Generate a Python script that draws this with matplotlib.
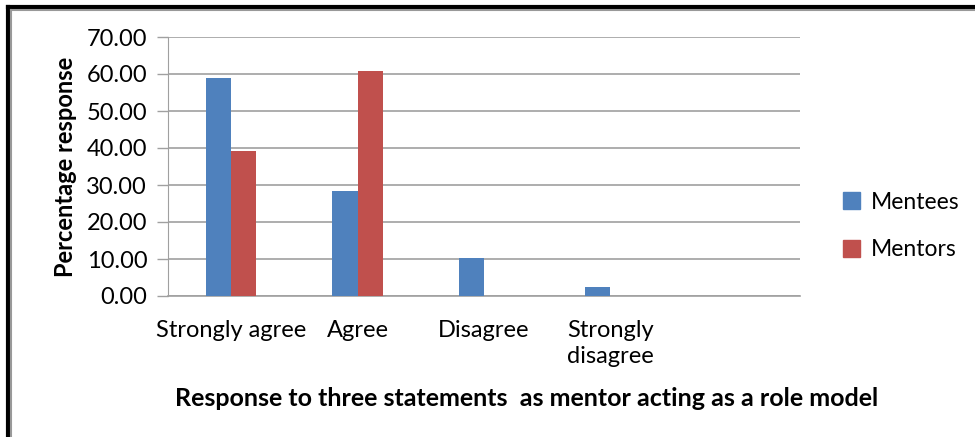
import matplotlib.pyplot as plt
import numpy as np
from matplotlib.lines import Line2D
from matplotlib.patches import Patch

categories = ["Strongly agree", "Agree", "Disagree", "Strongly\ndisagree", ""]
mentees = [58.8, 28.3, 10.4, 2.4, 0.0]
mentors = [39.2, 60.7, 0.0, 0.0, 0.0]
series_names = ["Mentees", "Mentors"]
y_ticks = [0, 10, 20, 30, 40, 50, 60, 70]

blue = "#4F81BD"
red = "#C0504D"
grid_col = "#A0A0A0"

plt.rcParams['font.family'] = ['Lato', 'DejaVu Sans']

fig = plt.figure(figsize=(9.75, 4.37), dpi=100)
ax = fig.add_axes([168 / 975, 141 / 437, 632 / 975, 259 / 437])

x = np.arange(len(categories))
w = 0.2
ax.bar(x - w / 2, mentees, width=w, color=blue, zorder=3)
ax.bar(x + w / 2, mentors, width=w, color=red, zorder=3)

ax.set_xlim(-0.5, len(categories) - 0.5)
ax.set_ylim(0, 70)
ax.set_yticks(y_ticks)
ax.set_yticklabels(["%.2f" % v for v in y_ticks], fontsize=17)
ax.set_xticks(x)
ax.set_xticklabels(categories, fontsize=17, va='top', linespacing=1.3)
ax.tick_params(axis='x', length=0, pad=17)
ax.tick_params(axis='y', length=8, width=1, color=grid_col, pad=7)

ax.yaxis.grid(True, color=grid_col, linewidth=1.2, zorder=0)
for s in ['top', 'right']:
    ax.spines[s].set_visible(False)
ax.spines['left'].set_color(grid_col)
ax.spines['bottom'].set_color(grid_col)
ax.spines['bottom'].set_linewidth(1.2)

ax.set_ylabel("Percentage response", fontsize=17, fontweight='bold', labelpad=7)
fig.text(527 / 975, 1 - 398 / 437, "Response to three statements  as mentor acting as a role model",
         fontsize=18, fontweight='bold', ha='center', va='center')

handles = [Patch(color=blue), Patch(color=red)]
fig.legend(handles, series_names, loc='center left', bbox_to_anchor=(843 / 975, 1 - 226 / 437),
           frameon=False, fontsize=16.5, handlelength=0.75, handleheight=0.75,
           handletextpad=0.45, labelspacing=1.15, borderpad=0, borderaxespad=0)

# outer frame (top and left only)
fig.add_artist(Line2D([8 / 975, 1], [1 - 7 / 437, 1 - 7 / 437], color='black', linewidth=3))
fig.add_artist(Line2D([8 / 975, 8 / 975], [0, 1 - 7 / 437], color='black', linewidth=3))
fig.add_artist(Line2D([11 / 975, 1], [1 - 10 / 437, 1 - 10 / 437], color='#999999', linewidth=1.5))
fig.add_artist(Line2D([11 / 975, 11 / 975], [0, 1 - 10 / 437], color='#999999', linewidth=1.5))

fig.savefig("out.png", dpi=100)
